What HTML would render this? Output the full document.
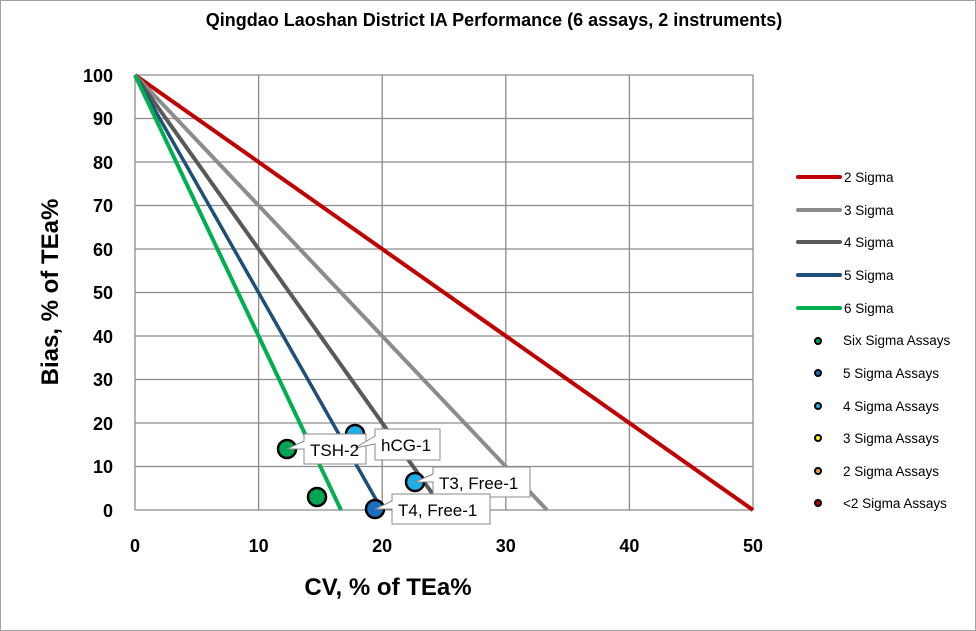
<!DOCTYPE html>
<html><head><style>body{margin:0;background:#fff}svg{display:block}text{font-family:"Liberation Sans",Arial,sans-serif}</style></head><body>
<svg width="976" height="631" viewBox="0 0 976 631" xmlns="http://www.w3.org/2000/svg">
<rect x="0.5" y="0.5" width="975" height="630" fill="#fff" stroke="#a0a0a0"/>
<text x="494" y="26" text-anchor="middle" font-size="18" font-weight="bold">Qingdao Laoshan District IA Performance (6 assays, 2 instruments)</text>
<g stroke="#8c8c8c" stroke-width="1.3">
<line x1="135" y1="75" x2="753" y2="75"/><line x1="135" y1="118.5" x2="753" y2="118.5"/><line x1="135" y1="162" x2="753" y2="162"/><line x1="135" y1="205.5" x2="753" y2="205.5"/><line x1="135" y1="249" x2="753" y2="249"/><line x1="135" y1="292.5" x2="753" y2="292.5"/><line x1="135" y1="336" x2="753" y2="336"/><line x1="135" y1="379.5" x2="753" y2="379.5"/><line x1="135" y1="423" x2="753" y2="423"/><line x1="135" y1="466.5" x2="753" y2="466.5"/><line x1="135" y1="510" x2="753" y2="510"/>
<line x1="135" y1="75" x2="135" y2="510"/><line x1="258.6" y1="75" x2="258.6" y2="510"/><line x1="382.2" y1="75" x2="382.2" y2="510"/><line x1="505.8" y1="75" x2="505.8" y2="510"/><line x1="629.4" y1="75" x2="629.4" y2="510"/><line x1="753" y1="75" x2="753" y2="510"/>
</g>
<g font-size="18" font-weight="bold" text-anchor="end">
<text x="113" y="82">100</text><text x="113" y="125">90</text><text x="113" y="169">80</text><text x="113" y="212">70</text><text x="113" y="256">60</text><text x="113" y="299">50</text><text x="113" y="343">40</text><text x="113" y="386">30</text><text x="113" y="430">20</text><text x="113" y="473">10</text><text x="113" y="517">0</text>
</g>
<g font-size="18" font-weight="bold" text-anchor="middle">
<text x="135" y="552">0</text><text x="258.6" y="552">10</text><text x="382.2" y="552">20</text><text x="505.8" y="552">30</text><text x="629.4" y="552">40</text><text x="753" y="552">50</text>
</g>
<text x="388" y="595" text-anchor="middle" font-size="24" font-weight="bold">CV, % of TEa%</text>
<text transform="translate(58,292) rotate(-90)" text-anchor="middle" font-size="24" font-weight="bold">Bias, % of TEa%</text>
<g stroke-width="4" fill="none">
<line x1="135" y1="75" x2="753" y2="510" stroke="#c00000"/>
<line x1="135" y1="75" x2="547" y2="510" stroke="#8c8c8c"/>
<line x1="135" y1="75" x2="444" y2="510" stroke="#595959"/>
<line x1="135" y1="75" x2="382" y2="510" stroke="#1f4e79" stroke-width="3.5"/>
<line x1="135" y1="75" x2="341" y2="510" stroke="#00b050"/>
</g>
<g stroke="#000" stroke-width="2.5">
<circle cx="355" cy="434" r="9" fill="#1eaee8"/>
<circle cx="287" cy="449" r="9" fill="#00a651"/>
<circle cx="317" cy="497" r="9" fill="#00a651"/>
<circle cx="415" cy="482" r="9" fill="#1eaee8"/>
<circle cx="375" cy="509" r="9" fill="#1a6fc0"/>
</g>
<g stroke="#888" stroke-width="1" fill="#fff">
<path d="M287,449 L304,441 L304,434 L366,434 L366,464 L304,464 L304,449 Z"/>
<path d="M355,448 L375,436 L375,429 L440,429 L440,460 L375,460 L375,444 Z"/>
<path d="M415,482 L433,474 L433,467 L530,467 L530,497 L433,497 L433,482 Z"/>
<path d="M375,509 L392,501 L392,494 L490,494 L490,524 L392,524 L392,509 Z"/>
</g>
<g font-size="17">
<text x="310" y="456">TSH-2</text><text x="381" y="451">hCG-1</text><text x="439" y="489">T3, Free-1</text><text x="398" y="516">T4, Free-1</text>
</g>
<g stroke-width="4" stroke-linecap="round">
<line x1="798" y1="177" x2="840" y2="177" stroke="#c00000"/>
<line x1="798" y1="210" x2="840" y2="210" stroke="#8c8c8c"/>
<line x1="798" y1="242" x2="840" y2="242" stroke="#595959"/>
<line x1="798" y1="275" x2="840" y2="275" stroke="#1f4e79"/>
<line x1="798" y1="308" x2="840" y2="308" stroke="#00b050"/>
</g>
<g stroke="#000" stroke-width="2">
<circle cx="818" cy="341" r="3" fill="#00a651"/>
<circle cx="818" cy="373" r="3" fill="#1a6fc0"/>
<circle cx="818" cy="406" r="3" fill="#1eaee8"/>
<circle cx="818" cy="438" r="3" fill="#ffff00"/>
<circle cx="818" cy="471" r="3" fill="#f0a020"/>
<circle cx="818" cy="503" r="3" fill="#c00000"/>
</g>
<g font-size="13.5">
<text x="844" y="182">2 Sigma</text><text x="844" y="215">3 Sigma</text><text x="844" y="247">4 Sigma</text><text x="844" y="280">5 Sigma</text><text x="844" y="313">6 Sigma</text>
<text x="843" y="345">Six Sigma Assays</text><text x="843" y="378">5 Sigma Assays</text><text x="843" y="411">4 Sigma Assays</text><text x="843" y="443">3 Sigma Assays</text><text x="843" y="476">2 Sigma Assays</text><text x="843" y="508">&lt;2 Sigma Assays</text>
</g>
</svg>
</body></html>
